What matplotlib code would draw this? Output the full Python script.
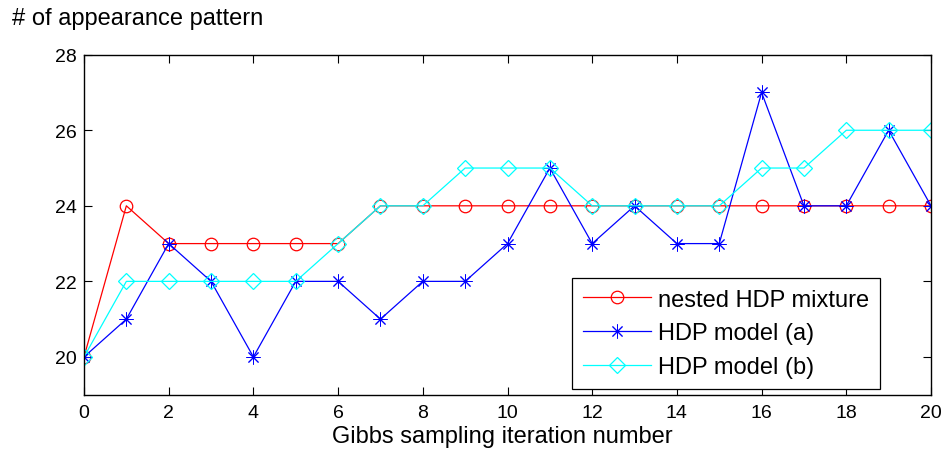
import matplotlib
matplotlib.use("Agg")
import matplotlib.pyplot as plt

plt.rcParams['font.family'] = ['Liberation Sans', 'DejaVu Sans']

iterations = list(range(21))
nested_hdp = [20, 24, 23, 23, 23, 23, 23, 24, 24, 24, 24, 24, 24, 24, 24, 24, 24, 24, 24, 24, 24]
hdp_a = [20, 21, 23, 22, 20, 22, 22, 21, 22, 22, 23, 25, 23, 24, 23, 23, 27, 24, 24, 26, 24]
hdp_b = [20, 22, 22, 22, 22, 22, 23, 24, 24, 25, 25, 25, 24, 24, 24, 24, 25, 25, 26, 26, 26]
x_ticks = list(range(0, 21, 2))
y_ticks = list(range(20, 29, 2))

fig = plt.figure(figsize=(9.43, 4.52), dpi=100)
ax = fig.add_axes([84 / 943, 1 - 395.7 / 452, (931 - 84) / 943, (395.7 - 55.7) / 452])

lw = 0.9
ax.plot(iterations, nested_hdp, color='#ff0000', lw=lw, marker='o', ms=9,
        mfc='none', mec='#ff0000', mew=0.9, label='nested HDP mixture')
ax.plot(iterations, hdp_a, color='#0000ff', lw=lw, marker=(8, 2, 0), ms=10,
        mec='#0000ff', mew=0.7, label='HDP model (a)')
ax.plot(iterations, hdp_b, color='#00ffff', lw=lw, marker='D', ms=8,
        mfc='none', mec='#00ffff', mew=0.9, label='HDP model (b)')

ax.set_xlim(0, 20)
ax.set_ylim(19, 28)
ax.set_xticks(x_ticks)
ax.set_yticks(y_ticks)
ax.tick_params(direction='in', length=6, width=0.8, top=True, right=True,
               labelsize=14, colors='black')
ax.tick_params(axis='x', pad=7)
ax.tick_params(axis='y', pad=5)
for s in ax.spines.values():
    s.set_linewidth(1.0)

leg = ax.legend(loc='lower right', bbox_to_anchor=(0.94, 0.017), borderaxespad=0,
                fontsize=17, fancybox=False, framealpha=1, edgecolor='black',
                handlelength=2.9, handletextpad=0.3, labelspacing=0.5,
                borderpad=0.45)
leg.get_frame().set_linewidth(0.9)

fig.text(12 / 943, 1 - 25 / 452, '# of appearance pattern', fontsize=17,
         ha='left', va='baseline')
fig.text(502 / 943, (452 - 443) / 452, 'Gibbs sampling iteration number',
         fontsize=17, ha='center', va='baseline')

fig.savefig('out.png', dpi=100)
